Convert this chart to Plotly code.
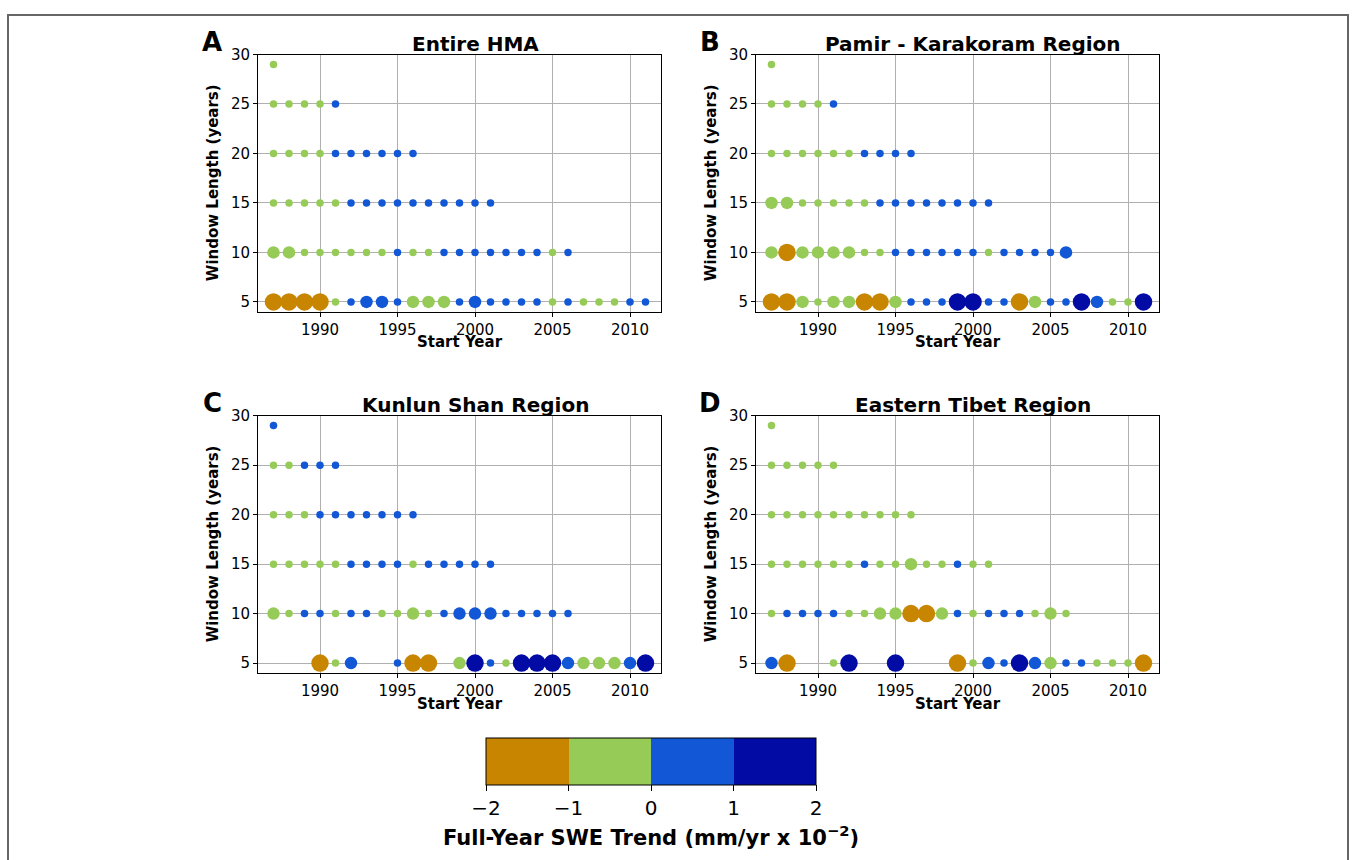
import plotly.graph_objects as go

# ---------------- data ----------------
START_YEAR = 1987
LAST_YEAR = 2015
window_lengths = [5, 10, 15, 20, 25, 29]
panel_titles = ["Entire HMA", "Pamir - Karakoram Region", "Kunlun Shan Region", "Eastern Tibet Region"]
panel_letters = ["A", "B", "C", "D"]
x_ticks = [1990, 1995, 2000, 2005, 2010]
y_ticks = [5, 10, 15, 20, 25, 30]
cbar_ticks = [-2, -1, 0, 1, 2]
cbar_colors = ["#C88600", "#96CB58", "#1157D6", "#020BA3"]

# Full-year SWE trend (mm/yr x 1e-2), rows = window lengths 5,10,15,20,25,29; columns = start year from 1987
trend_hma = [
    [-1.6, -1.5, -1.4, -1.3, -0.2, 0.3, 0.7, 0.8, 0.3, -0.6, -0.7, -0.6, 0.3, 0.8, 0.4, 0.3, 0.2, 0.3, -0.2, 0.3, -0.3, -0.2, -0.1, 0.2, 0.3],
    [-0.6, -0.7, -0.3, -0.3, -0.2, -0.2, -0.1, -0.1, 0.1, -0.1, -0.1, 0.1, 0.2, 0.2, 0.2, 0.3, 0.3, 0.2, -0.1, 0.2],
    [-0.2, -0.2, -0.1, -0.1, -0.1, 0.1, 0.1, 0.2, 0.2, 0.2, 0.2, 0.2, 0.2, 0.2, 0.1],
    [-0.1, -0.1, -0.1, -0.1, 0.1, 0.1, 0.1, 0.1, 0.1, 0.1],
    [-0.1, -0.1, -0.1, -0.1, 0.1],
    [-0.1],
]
trend_pamir = [
    [-1.3, -1.4, -0.7, -0.3, -0.6, -0.7, -1.2, -1.3, -0.6, 0.2, 0.3, 0.3, 1.3, 1.4, 0.3, 0.2, -1.2, -0.6, 0.2, 0.3, 1.3, 0.7, -0.2, -0.3, 1.4],
    [-0.6, -1.1, -0.7, -0.6, -0.7, -0.6, -0.3, -0.2, 0.2, 0.2, 0.3, 0.3, 0.2, 0.3, -0.2, 0.3, 0.3, 0.4, 0.4, 0.7],
    [-0.6, -0.6, -0.3, -0.3, -0.2, -0.2, -0.1, 0.1, 0.2, 0.2, 0.2, 0.2, 0.3, 0.3, 0.3],
    [-0.2, -0.2, -0.2, -0.1, -0.1, -0.1, 0.1, 0.1, 0.1, 0.2],
    [-0.2, -0.1, -0.1, -0.1, 0.1],
    [-0.1],
]
trend_kunlun = [
    [None, None, None, -1.2, -0.2, 0.7, None, None, 0.3, -1.2, -1.3, None, -0.6, 1.3, 0.3, -0.2, 1.3, 1.4, 1.5, 0.7, -0.7, -0.6, -0.6, 0.7, 1.4],
    [-0.6, -0.2, 0.2, 0.2, -0.1, 0.2, 0.2, -0.1, -0.2, -0.6, -0.2, 0.3, 0.7, 0.7, 0.6, 0.3, 0.3, 0.3, 0.3, 0.3],
    [-0.1, -0.1, -0.1, -0.1, -0.1, 0.1, 0.1, 0.1, 0.1, -0.1, 0.2, 0.2, 0.2, 0.3, 0.3],
    [-0.1, -0.1, -0.1, 0.1, 0.1, 0.1, 0.1, 0.1, 0.1, 0.1],
    [-0.1, -0.1, 0.1, 0.1, 0.1],
    [0.1],
]
trend_etibet = [
    [0.7, -1.2, None, None, -0.2, 1.3, None, None, 1.2, None, None, None, -1.2, -0.3, 0.6, 0.3, 1.3, 0.7, -0.6, 0.3, 0.2, -0.2, -0.2, -0.1, -1.3],
    [-0.1, 0.2, 0.2, 0.2, 0.1, -0.2, -0.3, -0.6, -0.7, -1.2, -1.3, -0.6, 0.3, -0.2, 0.3, 0.3, 0.2, -0.2, -0.7, -0.2],
    [-0.2, -0.2, -0.2, -0.2, -0.1, -0.2, 0.1, -0.3, -0.3, -0.6, -0.3, -0.3, 0.2, -0.1, -0.1],
    [-0.2, -0.2, -0.2, -0.2, -0.2, -0.2, -0.1, -0.1, -0.1, -0.1],
    [-0.2, -0.2, -0.1, -0.1, -0.1],
    [-0.1],
]
panel_trends = [trend_hma, trend_pamir, trend_kunlun, trend_etibet]

# ---------------- layout geometry (px) ----------------
W, H = 1356, 860
FONT = "DejaVu Sans"
col_x = [(258, 661), (756, 1159)]
row_y = [(46, 306), (411, 671)]


def px_x(x):
    return x / W


def px_y(y):
    return 1 - y / H


def marker_size(v):
    a = abs(v)
    if a < 0.5:
        return 7.5
    if a < 1.0:
        return 12.5
    return 17.5


fig = go.Figure()
annotations = []
for p in range(4):
    r, c = divmod(p, 2)
    idx = "" if p == 0 else str(p + 1)
    xs, ys, cs, ss = [], [], [], []
    for wl, row in zip(window_lengths, panel_trends[p]):
        for k, v in enumerate(row):
            if v is None:
                continue
            xs.append(START_YEAR + k)
            ys.append(wl)
            cs.append(v)
            ss.append(marker_size(v))
    fig.add_trace(go.Scatter(
        x=xs, y=ys, mode="markers", xaxis="x" + idx, yaxis="y" + idx,
        marker=dict(color=cs, coloraxis="coloraxis", size=ss, line=dict(width=0), opacity=1),
        showlegend=False, hoverinfo="x+y",
    ))
    x0, x1 = col_x[c]
    y0, y1 = row_y[r]
    axis_common = dict(
        showgrid=True, gridcolor="#b0b0b0", gridwidth=0.8, zeroline=False,
        showline=True, linecolor="black", linewidth=1, mirror=True,
        ticks="outside", ticklen=4, tickcolor="black", tickwidth=1,
        tickfont=dict(family=FONT, size=15, color="black"),
    )
    fig.update_layout(**{
        "xaxis" + idx: dict(domain=[px_x(x0), px_x(x1)], anchor="y" + idx, range=[1986, 2012],
                            tickvals=x_ticks, **axis_common),
        "yaxis" + idx: dict(domain=[px_y(y1), px_y(y0)], anchor="x" + idx, range=[4, 30],
                            tickvals=y_ticks, **axis_common),
    })
    # panel title
    annotations.append(dict(text="<b>%s</b>" % panel_titles[p], x=px_x((x0 + x1) / 2 + 15.5), y=px_y(y0 - 11),
                            xref="paper", yref="paper", showarrow=False, xanchor="center", yanchor="middle",
                            font=dict(family=FONT, size=20, color="black")))
    # panel letter
    annotations.append(dict(text="<b>%s</b>" % panel_letters[p], x=px_x(x0 - 46), y=px_y(y0 - 13),
                            xref="paper", yref="paper", showarrow=False, xanchor="center", yanchor="middle",
                            font=dict(family=FONT, size=26, color="black")))
    # axis titles
    annotations.append(dict(text="<b>Start Year</b>", x=px_x((x0 + x1) / 2), y=px_y(y1 + 31),
                            xref="paper", yref="paper", showarrow=False, xanchor="center", yanchor="middle",
                            font=dict(family=FONT, size=15, color="black")))
    annotations.append(dict(text="<b>Window Length (years)</b>", x=px_x(x0 - 45), y=px_y((y0 + y1) / 2),
                            xref="paper", yref="paper", showarrow=False, xanchor="center", yanchor="middle",
                            textangle=-90, font=dict(family=FONT, size=15, color="black")))

cscale = []
n = len(cbar_colors)
for i, col in enumerate(cbar_colors):
    cscale.append([i / n, col])
    cscale.append([(i + 1) / n, col])

fig.update_layout(
    width=W, height=H, autosize=False,
    margin=dict(l=0, r=0, t=0, b=0),
    paper_bgcolor="white", plot_bgcolor="white",
    font=dict(family=FONT, color="black"),
    annotations=annotations,
    coloraxis=dict(
        colorscale=cscale, cmin=-2, cmax=2,
        colorbar=dict(
            orientation="h", x=px_x(651), xanchor="center", y=px_y(737), yanchor="top",
            len=330, lenmode="pixels", thickness=47, thicknessmode="pixels",
            xpad=0, ypad=0, outlinewidth=1, outlinecolor="black",
            tickvals=cbar_ticks, ticks="outside", ticklen=6, tickcolor="black",
            tickfont=dict(family=FONT, size=20, color="black"),
            title=dict(text="<b>Full-Year SWE Trend (mm/yr x 10<sup>\u22122</sup>)</b>", side="bottom",
                       font=dict(family=FONT, size=21, color="black")),
        ),
    ),
    shapes=[dict(type="path", xref="paper", yref="paper",
                 path="M %f %f L %f %f L %f %f L %f %f" % (px_x(8), -0.1, px_x(8), px_y(6), px_x(1348), px_y(6), px_x(1348), -0.1),
                 line=dict(color="#666666", width=2))],
)

post = (
    "var d=document.documentElement;d.style.margin='0';d.style.padding='0';d.style.overflow='hidden';"
    "var b=document.body;b.style.margin='0';b.style.padding='0';b.style.overflow='hidden';"
    "var g=document.getElementById('{plot_id}');"
    "if(g&&g.parentElement&&g.parentElement!==b){var p=g.parentElement;p.style.margin='0';p.style.padding='0';"
    "p.style.fontSize='0';p.style.lineHeight='0';}"
)
fig.write_html("out.html", config={"displayModeBar": False}, post_script=post)
